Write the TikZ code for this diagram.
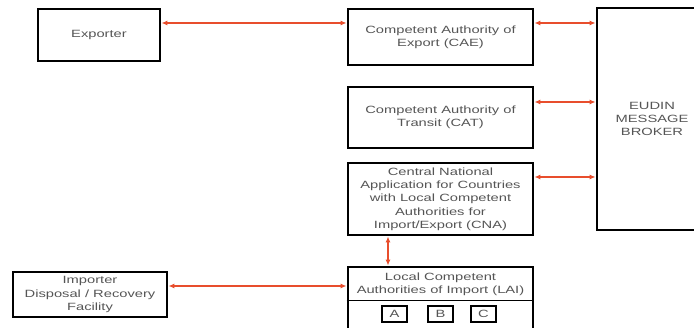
\documentclass[tikz,border=0pt]{standalone}
\usepackage{fontspec}
\setmainfont[FakeStretch=1.4]{Liberation Sans}
\usetikzlibrary{arrows.meta}
\definecolor{arr}{RGB}{232,78,45}
\definecolor{txt}{RGB}{85,85,85}
\begin{document}
\begin{tikzpicture}[x=1pt,y=-1pt,
  box/.style={draw=black,line width=2.8pt,fill=white,inner sep=0pt,align=center,text=txt,font=\fontsize{10.5}{13.3}\selectfont},
  lbl/.style={inner sep=0pt,align=center,text=txt,font=\fontsize{10.5}{13.3}\selectfont},
  link/.style={draw=arr,line width=1.4pt,{Latex[length=6pt,width=5pt]}-{Latex[length=6pt,width=5pt]}},
  smallbox/.style={draw=black,line width=2pt,inner sep=0pt,minimum width=25pt,minimum height=16pt,text=txt,font=\fontsize{10.5}{13.3}\selectfont}]
\useasboundingbox (0,0) rectangle (694,328);
\clip (0,0) rectangle (694,328);
\fill[white] (0,0) rectangle (694,328);
\node[box,minimum width=122pt,minimum height=52pt] (exp) at (99,35) {Exporter};
\node[box,minimum width=185pt,minimum height=56pt] (cae) at (440.5,37) {Competent Authority of\\Export (CAE)};
\node[box,minimum width=185pt,minimum height=61pt] (cat) at (440.5,117.5) {Competent Authority of\\Transit (CAT)};
\node[box,minimum width=185pt,minimum height=72pt] (cna) at (440.5,199) {Central National\\Application for Countries\\with Local Competent\\Authorities for\\Import/Export (CNA)};
\node[box,minimum width=185pt,minimum height=73pt] (lai) at (440.5,303.5) {};
\node[lbl] (lait) at (440.5,284) {Local Competent\\Authorities of Import (LAI)};
\coordinate (div) at (440.5,301);
\draw[line width=1pt] (div -| lai.west) -- (div -| lai.east);
\node[smallbox] (a) at (394.5,314) {A};
\node[smallbox] (b) at (440.5,314) {B};
\node[smallbox] (c) at (483.5,314) {C};
\node[box,minimum width=115pt,minimum height=222pt] (brk) at (654.5,119) {};
\node[lbl] (brkt) at (652,119) {EUDIN\\MESSAGE\\BROKER};
\node[box,minimum width=154pt,minimum height=45pt] (imp) at (90,294.5) {Importer\\Disposal / Recovery\\Facility};
% connectors
\coordinate (r1) at (0,23);
\coordinate (r2) at (0,102);
\coordinate (r3) at (0,177);
\coordinate (r4) at (0,286);
\coordinate (v1) at (388,0);
\draw[link] (r1 -| exp.east) -- (r1 -| cae.west);
\draw[link] (r1 -| cae.east) -- (r1 -| brk.west);
\draw[link] (r2 -| cat.east) -- (r2 -| brk.west);
\draw[link] (r3 -| cna.east) -- (r3 -| brk.west);
\draw[link] (v1 |- cna.south) -- (v1 |- lai.north);
\draw[link] (r4 -| imp.east) -- (r4 -| lai.west);
\end{tikzpicture}
\end{document}
